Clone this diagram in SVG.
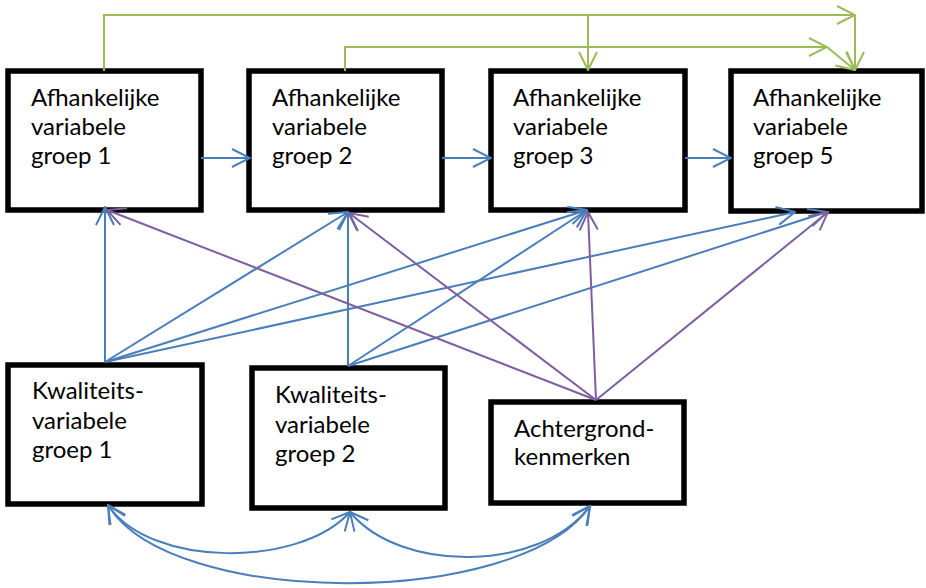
<svg xmlns="http://www.w3.org/2000/svg" width="926" height="588" viewBox="0 0 926 588">
<style>
.box{fill:#fff;stroke:#000;stroke-width:5.5}
.t{font-family:Lato,"Open Sans","Liberation Sans",sans-serif;font-size:24px;fill:#000}
.b{fill:none;stroke:#4a7ebb;stroke-width:2}
.p{fill:none;stroke:#7e5fa0;stroke-width:2}
.g{fill:none;stroke:#9bbb59;stroke-width:2}
</style>
<defs>
<marker id="mb" viewBox="0 0 20 20" refX="19" refY="10" markerWidth="20" markerHeight="20" markerUnits="userSpaceOnUse" orient="auto-start-reverse"><path d="M1,1 L19,10 L1,19" fill="none" stroke="#4a7ebb" stroke-width="2"/></marker>
<marker id="mp" viewBox="0 0 20 20" refX="19" refY="10" markerWidth="20" markerHeight="20" markerUnits="userSpaceOnUse" orient="auto"><path d="M1,1 L19,10 L1,19" fill="none" stroke="#7e5fa0" stroke-width="2"/></marker>
<marker id="mg" viewBox="0 0 20 20" refX="19" refY="10" markerWidth="20" markerHeight="20" markerUnits="userSpaceOnUse" orient="auto"><path d="M1,1 L19,10 L1,19" fill="none" stroke="#9bbb59" stroke-width="2"/></marker>
</defs>
<rect width="926" height="588" fill="#fff"/>
<g id="A1"><rect class="box" x="8" y="71" width="193" height="139"/><text class="t" x="31" y="106">Afhankelijke</text><text class="t" x="31" y="135">variabele</text><text class="t" x="31" y="164">groep 1</text></g>
<g id="A2"><rect class="box" x="249" y="71" width="193" height="139"/><text class="t" x="272" y="106">Afhankelijke</text><text class="t" x="272" y="135">variabele</text><text class="t" x="272" y="164">groep 2</text></g>
<g id="A3"><rect class="box" x="491" y="71" width="194" height="139"/><text class="t" x="513" y="106">Afhankelijke</text><text class="t" x="513" y="135">variabele</text><text class="t" x="513" y="164">groep 3</text></g>
<g id="A5"><rect class="box" x="731" y="71" width="191" height="140"/><text class="t" x="753" y="106">Afhankelijke</text><text class="t" x="753" y="135">variabele</text><text class="t" x="753" y="164">groep 5</text></g>
<g id="K1"><rect class="box" x="8" y="365" width="194" height="139"/><text class="t" x="32" y="399">Kwaliteits-</text><text class="t" x="32" y="429">variabele</text><text class="t" x="32" y="458">groep 1</text></g>
<g id="K2"><rect class="box" x="252" y="368" width="193" height="140"/><text class="t" x="275" y="403">Kwaliteits-</text><text class="t" x="275" y="433">variabele</text><text class="t" x="275" y="462">groep 2</text></g>
<g id="AG"><rect class="box" x="491" y="402" width="193" height="101"/><text class="t" x="514" y="437">Achtergrond-</text><text class="t" x="514" y="465">kenmerken</text></g>
<g id="connectors">
<line class="b" x1="201" y1="158" x2="250" y2="158" marker-end="url(#mb)"/>
<line class="b" x1="442" y1="158" x2="491" y2="158" marker-end="url(#mb)"/>
<line class="b" x1="685" y1="158" x2="731" y2="158" marker-end="url(#mb)"/>
<polyline class="g" points="104,71 104,15 855,15" marker-end="url(#mg)"/>
<line class="g" x1="855" y1="15" x2="855" y2="70" marker-end="url(#mg)"/>
<line class="g" x1="588" y1="15" x2="588" y2="70" marker-end="url(#mg)"/>
<polyline class="g" points="345,71 345,47 827,47" marker-end="url(#mg)"/>
<line class="g" x1="827" y1="47" x2="855" y2="70" marker-end="url(#mg)"/>
<line class="b" x1="105" y1="362" x2="105" y2="207" marker-end="url(#mb)"/>
<line class="b" x1="105" y1="362" x2="348" y2="212" marker-end="url(#mb)"/>
<line class="b" x1="105" y1="362" x2="587" y2="210" marker-end="url(#mb)"/>
<line class="b" x1="105" y1="362" x2="795" y2="212" marker-end="url(#mb)"/>
<line class="b" x1="348" y1="366" x2="348" y2="212" marker-end="url(#mb)"/>
<line class="b" x1="348" y1="366" x2="587" y2="210" marker-end="url(#mb)"/>
<line class="b" x1="348" y1="366" x2="827" y2="212" marker-end="url(#mb)"/>
<line class="p" x1="596" y1="400" x2="107" y2="210" marker-end="url(#mp)"/>
<line class="p" x1="596" y1="400" x2="349" y2="213" marker-end="url(#mp)"/>
<line class="p" x1="596" y1="400" x2="588" y2="212" marker-end="url(#mp)"/>
<line class="p" x1="596" y1="400" x2="828" y2="212" marker-end="url(#mp)"/>
<path class="b" d="M108,505 C150,568 300,568 350,512" marker-start="url(#mb)" marker-end="url(#mb)"/>
<path class="b" d="M350,512 C400,573 540,573 590,506" marker-start="url(#mb)" marker-end="url(#mb)"/>
<path class="b" d="M108,505 C170,609 520,609 590,506" marker-start="url(#mb)" marker-end="url(#mb)"/>
</g>
</svg>
